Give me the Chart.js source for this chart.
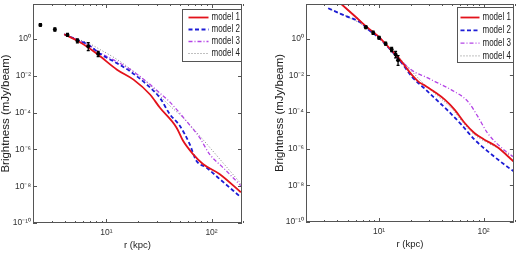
<!DOCTYPE html>
<html>
<head>
<meta charset="utf-8">
<script src="https://cdn.jsdelivr.net/npm/chart.js@4"></script>
<style>
  html, body { margin: 0; padding: 0; background: #fff; }
  #wrap { position: relative; width: 520px; height: 253px; overflow: hidden; }
  canvas { position: absolute; top: 0; }
  #leftChart { left: 0; }
  #rightChart { left: 260px; }
</style>
</head>
<body>
<div id="wrap">
  <canvas id="leftChart" width="260" height="253"></canvas>
  <canvas id="rightChart" width="260" height="253"></canvas>
</div>
<script>
// ---- values ----
var modelNames = ['model 1', 'model 2', 'model 3', 'model 4'];
var xTicks = [2, 3, 4, 5, 6, 7, 8, 9, 10, 20, 30, 40, 50, 60, 70, 80, 90, 100, 200];
var xTickLabels = { 10: '10\u00B9', 100: '10\u00B2' };
var yTicks = [1e-10, 1e-8, 1e-6, 1e-4, 1e-2, 1];
var yTickLabels = ['10\u207B\u00B9\u2070', '10\u207B\u2078', '10\u207B\u2076', '10\u207B\u2074', '10\u207B\u00B2', '10\u2070'];

// left panel: observed points with error bars
var leftObsR  = [2.35, 3.23, 4.26, 5.29, 6.71, 8.34];
var leftObsB  = [5.7, 3.2, 1.64, 0.78, 0.39, 0.155];
var leftObsLo = [4.9, 2.6, 1.4, 0.6, 0.23, 0.11];
var leftObsHi = [6.6, 3.9, 1.95, 1.0, 0.62, 0.21];

// left panel: models
var leftM1R = [3.96, 5.29, 6.71, 8.35, 12.6, 18.1, 26.0, 32.3, 46.5, 53.6, 66.7, 82.8, 119, 190];
var leftM1B = [1.77, 0.78, 0.339, 0.137, 0.0212, 0.00612, 9.5e-4, 1.8e-4, 1.5e-5, 2.9e-6, 5.5e-7, 1.6e-7, 4.6e-8, 4.7e-9];
var leftM2R = [3.96, 5.29, 6.71, 8.78, 11.7, 16.8, 24.2, 32.3, 40.2, 49.9, 62.0, 71.7, 89.1, 119, 190];
var leftM2B = [1.77, 0.883, 0.474, 0.148, 0.0596, 0.0172, 0.0033, 6.2e-4, 7.9e-5, 1.9e-5, 1.9e-6, 2.4e-7, 1.05e-7, 2.5e-8, 2.5e-9];
var leftM3R = [3.96, 5.29, 6.71, 8.78, 11.7, 16.8, 24.2, 32.3, 40.2, 57.7, 77.1, 95.7, 128, 190];
var leftM3B = [1.77, 0.883, 0.474, 0.171, 0.0718, 0.022, 0.00467, 0.00112, 3.66e-4, 3.4e-5, 4.3e-6, 5.5e-7, 1.05e-7, 1.07e-8];
var leftM4R = [3.96, 5.29, 6.71, 8.78, 12.6, 18.1, 26.0, 37.4, 53.6, 77.1, 119, 190];
var leftM4B = [1.77, 0.975, 0.593, 0.255, 0.0764, 0.0172, 0.0030, 3.35e-4, 5.2e-5, 5.4e-6, 3.1e-7, 1.38e-8];

// right panel: observed points with error bars
var rightObsR  = [7.48, 8.78, 10, 11.56, 13.2, 14.4, 15.2];
var rightObsB  = [4.27, 2.11, 1.13, 0.537, 0.254, 0.136, 0.067];
var rightObsLo = [3.6, 1.7, 0.95, 0.45, 0.2, 0.09, 0.035];
var rightObsHi = [5.0, 2.6, 1.35, 0.65, 0.33, 0.2, 0.12];

// right panel: models
var rightM1R = [4.1, 4.35, 6.03, 7.48, 10, 13.4, 15.4, 17.9, 20.6, 23.8, 27.5, 34.3, 42.6, 52.8, 65.7, 81.6, 101, 135, 194];
var rightM1B = [105, 77.6, 14.8, 4.84, 1.23, 0.207, 0.0902, 0.0295, 0.0105, 0.00457, 0.00275, 0.0012, 4.7e-4, 1.35e-4, 2.6e-5, 7.2e-6, 3.2e-6, 1.23e-6, 2.0e-7];
var rightM2R = [3.26, 4.68, 6.71, 8.05, 10, 13.4, 16.6, 20.6, 27.5, 36.8, 45.7, 61.1, 81.6, 109, 157, 194];
var rightM2B = [45.5, 18.2, 7.33, 2.82, 1.09, 0.19, 0.0447, 0.0085, 0.00182, 3.8e-4, 1.17e-4, 2.1e-5, 3.2e-6, 7.4e-7, 1.4e-7, 5.8e-8];
var rightM3R = [4.1, 4.35, 6.03, 7.48, 10, 13.4, 17.9, 22.2, 27.5, 34.3, 49.2, 70.6, 87.7, 109, 146, 194];
var rightM3B = [105, 77.6, 14.8, 4.84, 1.23, 0.207, 0.0363, 0.0145, 0.0085, 0.00457, 0.00162, 3.8e-4, 5.9e-5, 7.2e-6, 1.23e-6, 3.5e-7];
var rightM4R = [3.5, 4.85, 6.71, 8.65, 10, 13.4, 17.9, 22.2, 27.5, 36.8, 49.2, 65.7, 81.6, 109, 146, 194];
var rightM4B = [38.5, 16.8, 6.47, 2.11, 1.18, 0.224, 0.0394, 0.0105, 0.0030, 7.1e-4, 1.66e-4, 2.1e-5, 5.9e-6, 2.1e-6, 9.1e-7, 3.2e-7];

// ---- styles ----
var SANS = "'Liberation Sans', Arial, sans-serif";
var modelStyles = [
    { color: '#e3121b', dash: [], width: 1.8 },
    { color: '#1c1cd6', dash: [4, 2.5], width: 1.8 },
    { color: '#b444e6', dash: [4, 2, 1, 2], width: 1.3 },
    { color: '#808080', dash: [1, 2], width: 1 }
];

function toPoints(xs, ys) {
    return xs.map(function (v, i) { return { x: v, y: ys[i] }; });
}

// frame, inward ticks, error bars and a boxed legend like the original figure
var matlabLook = {
    id: 'matlabLook',
    afterDatasetsDraw: function (chart, args, opts) {
        var ctx = chart.ctx;
        var a = chart.chartArea;
        var xs = chart.scales.x;
        var ys = chart.scales.y;
        ctx.save();

        // error bars for the observed points
        var obs = chart.data.datasets[0];
        ctx.strokeStyle = '#000';
        ctx.lineWidth = 1.3;
        obs.data.forEach(function (p, i) {
            var px = xs.getPixelForValue(p.x);
            var y1 = ys.getPixelForValue(obs.errLo[i]);
            var y2 = ys.getPixelForValue(obs.errHi[i]);
            ctx.beginPath();
            ctx.moveTo(px, y1); ctx.lineTo(px, y2);
            ctx.moveTo(px - 1.5, y1); ctx.lineTo(px + 1.5, y1);
            ctx.moveTo(px - 1.5, y2); ctx.lineTo(px + 1.5, y2);
            ctx.stroke();
        });

        // box
        ctx.strokeStyle = '#555';
        ctx.lineWidth = 1;
        ctx.strokeRect(Math.round(a.left) + 0.5, Math.round(a.top) + 0.5,
            Math.round(a.right - a.left) - 1, Math.round(a.bottom - a.top) - 1);

        // ticks pointing inwards
        ctx.beginPath();
        xs.ticks.forEach(function (t) {
            var px = Math.round(xs.getPixelForValue(t.value)) + 0.5;
            var len = xTickLabels[t.value] ? 4 : 2;
            ctx.moveTo(px, a.bottom); ctx.lineTo(px, a.bottom - len);
            ctx.moveTo(px, a.top); ctx.lineTo(px, a.top + len);
        });
        ys.ticks.forEach(function (t) {
            var py = Math.round(ys.getPixelForValue(t.value)) + 0.5;
            ctx.moveTo(a.left, py); ctx.lineTo(a.left + 4, py);
            ctx.moveTo(a.right, py); ctx.lineTo(a.right - 4, py);
        });
        ctx.stroke();

        // legend
        var bx = Math.round(a.right - opts.w) + 0.5;
        var by = Math.round(a.top + opts.top) + 0.5;
        ctx.fillStyle = '#fff';
        ctx.fillRect(bx, by, opts.w - 1, opts.h);
        ctx.strokeStyle = '#555';
        ctx.strokeRect(bx, by, opts.w - 1, opts.h);
        chart.data.datasets.slice(1).forEach(function (ds, i) {
            var ry = by + opts.first + i * opts.step;
            ctx.strokeStyle = ds.borderColor;
            ctx.lineWidth = ds.borderWidth;
            ctx.setLineDash(ds.borderDash);
            ctx.beginPath();
            ctx.moveTo(bx + opts.sample, ry);
            ctx.lineTo(bx + opts.sample + opts.sampleLen, ry);
            ctx.stroke();
            ctx.setLineDash([]);
            // the original lettering is narrow, squeeze it a little
            ctx.save();
            ctx.translate(bx + opts.text, ry);
            ctx.scale(0.8, 1);
            ctx.font = '10px ' + SANS;
            ctx.textBaseline = 'middle';
            ctx.textAlign = 'left';
            ctx.fillStyle = '#222';
            ctx.fillText(ds.label, 0, 0);
            ctx.restore();
        });
        ctx.restore();
    }
};

function makeChart(id, obsR, obsB, obsLo, obsHi, models, pad, yWidth, legendOpts) {
    var datasets = [{
        label: 'data',
        data: toPoints(obsR, obsB),
        errLo: obsLo,
        errHi: obsHi,
        showLine: false,
        pointRadius: 2,
        pointBackgroundColor: '#000',
        pointBorderColor: '#000',
        pointBorderWidth: 0
    }];
    models.forEach(function (m, i) {
        datasets.push({
            label: modelNames[i],
            data: toPoints(m[0], m[1]),
            showLine: true,
            fill: false,
            borderColor: modelStyles[i].color,
            borderWidth: modelStyles[i].width,
            borderDash: modelStyles[i].dash,
            pointRadius: 0,
            cubicInterpolationMode: 'monotone'
        });
    });

    return new Chart(document.getElementById(id).getContext('2d'), {
        type: 'scatter',
        data: { datasets: datasets },
        options: {
            responsive: false,
            animation: false,
            events: [],
            layout: { padding: pad },
            plugins: {
                legend: { display: false },
                tooltip: { enabled: false },
                matlabLook: legendOpts
            },
            scales: {
                x: {
                    type: 'logarithmic',
                    min: 2,
                    max: 195,
                    grid: { display: false, drawTicks: false },
                    border: { display: false },
                    afterBuildTicks: function (s) { s.ticks = xTicks.map(function (v) { return { value: v }; }); },
                    afterFit: function (s) { s.height = 30; },
                    ticks: {
                        autoSkip: false,
                        maxRotation: 0,
                        padding: 5,
                        color: '#333',
                        font: { family: SANS, size: 8.5 },
                        callback: function (v) { return xTickLabels[v] || ''; }
                    },
                    title: {
                        display: true,
                        text: 'r (kpc)',
                        color: '#222',
                        font: { family: SANS, size: 9.5, lineHeight: 1.2 },
                        padding: { top: 0, bottom: 2 }
                    }
                },
                y: {
                    type: 'logarithmic',
                    min: 1e-10,
                    max: 78,
                    grid: { display: false, drawTicks: false },
                    border: { display: false },
                    afterBuildTicks: function (s) { s.ticks = yTicks.map(function (v) { return { value: v }; }); },
                    afterFit: function (s) { s.width = yWidth; },
                    ticks: {
                        autoSkip: false,
                        padding: 2,
                        color: '#333',
                        // small line height so the end labels do not push the plot area in
                        font: { family: SANS, size: 8.5, lineHeight: 0.4 },
                        callback: function (v, i) { return yTickLabels[i]; }
                    },
                    title: {
                        display: true,
                        text: 'Brightness (mJy/beam)',
                        color: '#222',
                        font: { family: SANS, size: 11.5, lineHeight: 1 },
                        padding: 0
                    }
                }
            }
        },
        plugins: [matlabLook]
    });
}

makeChart('leftChart', leftObsR, leftObsB, leftObsLo, leftObsHi,
    [[leftM1R, leftM1B], [leftM2R, leftM2B], [leftM3R, leftM3B], [leftM4R, leftM4B]],
    { left: 0, right: 18, top: 3, bottom: 0 }, 33,
    { w: 60, h: 52, top: 5, first: 8, step: 12, sample: 6, sampleLen: 20, text: 29 });

makeChart('rightChart', rightObsR, rightObsB, rightObsLo, rightObsHi,
    [[rightM1R, rightM1B], [rightM2R, rightM2B], [rightM3R, rightM3B], [rightM4R, rightM4B]],
    { left: 14, right: 3, top: 2, bottom: 1 }, 32,
    { w: 57, h: 55, top: 3, first: 10, step: 12.8, sample: 3, sampleLen: 19, text: 25 });
</script>
</body>
</html>
